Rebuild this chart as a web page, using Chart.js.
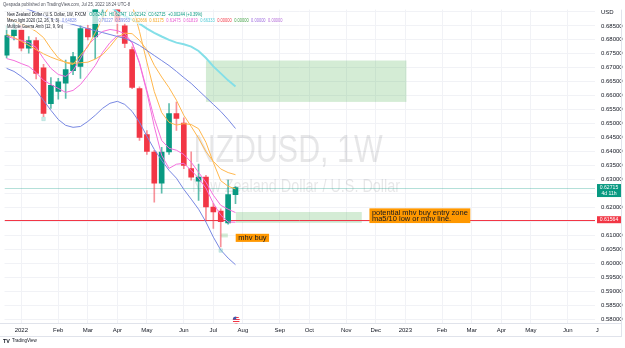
<!DOCTYPE html>
<html>
<head>
<meta charset="utf-8">
<script src="https://cdn.jsdelivr.net/npm/chart.js@4.4.1/dist/chart.umd.min.js"></script>
<style>
  html, body { margin: 0; padding: 0; background: #fff; }
  canvas { display: block; }
</style>
</head>
<body>
<canvas id="chart" width="625" height="348"></canvas>
<script>
// weekly bars, week 0 = first week of Jan 2022
const weeks = [-2, -1, 0, 1, 2, 3, 4, 5, 6, 7, 8, 9, 10, 11, 12, 13, 14, 15, 16, 17, 18, 19, 20, 21, 22, 23, 24, 25, 26, 27, 28, 29];
const opens = [0.6745, 0.6815, 0.6836, 0.6770, 0.6797, 0.6700, 0.6572, 0.6615, 0.6645, 0.6690, 0.6705, 0.6840, 0.6810, 0.6925, 0.6960, 0.6970, 0.6850, 0.6765, 0.6626, 0.6461, 0.6398, 0.6287, 0.6399, 0.6536, 0.6502, 0.6339, 0.6294, 0.6309, 0.6202, 0.6187, 0.6145, 0.6246];
const highs = [0.6850, 0.6860, 0.6850, 0.6812, 0.6808, 0.6712, 0.6665, 0.6662, 0.6728, 0.6755, 0.6850, 0.6852, 0.6935, 0.6985, 0.7035, 0.6985, 0.6858, 0.6775, 0.6632, 0.6475, 0.6405, 0.6415, 0.6572, 0.6577, 0.6521, 0.6399, 0.6355, 0.6315, 0.6215, 0.6195, 0.6298, 0.62747];
const lows = [0.6735, 0.6800, 0.6760, 0.6752, 0.6660, 0.6525, 0.6555, 0.6588, 0.6590, 0.6675, 0.6662, 0.6800, 0.6733, 0.6870, 0.6915, 0.6823, 0.6772, 0.6625, 0.6440, 0.6390, 0.6219, 0.6251, 0.6390, 0.6476, 0.6339, 0.6298, 0.6225, 0.6152, 0.6125, 0.6059, 0.6140, 0.62142];
const closes = [0.6815, 0.6838, 0.6770, 0.6797, 0.6680, 0.6537, 0.6637, 0.6650, 0.6694, 0.6740, 0.6840, 0.6810, 0.6925, 0.6960, 0.6970, 0.6865, 0.6787, 0.6630, 0.6451, 0.6401, 0.6287, 0.6398, 0.6536, 0.6519, 0.6351, 0.6309, 0.6309, 0.6202, 0.6184, 0.6149, 0.6246, 0.62715];

// indicator lines
const maHighFast = [0.6880, 0.6868, 0.6855, 0.6845, 0.6830, 0.6808, 0.6769, 0.6735, 0.6718, 0.6712, 0.6745, 0.6775, 0.6825, 0.6878, 0.6925, 0.6955, 0.6955, 0.6925, 0.6830, 0.6720, 0.6615, 0.6540, 0.6505, 0.6495, 0.6500, 0.6497, 0.6482, 0.6433, 0.6361, 0.6296, 0.6276, 0.62666];
const maHighSlow = [0.6820, 0.6808, 0.6795, 0.6780, 0.6765, 0.6750, 0.6738, 0.6728, 0.6720, 0.6716, 0.6718, 0.6720, 0.6731, 0.6747, 0.6776, 0.6809, 0.6824, 0.6822, 0.6798, 0.6764, 0.6709, 0.6667, 0.6629, 0.6584, 0.6530, 0.6490, 0.6448, 0.6400, 0.6365, 0.6338, 0.6325, 0.63175];
const maLowSlow = [0.6812, 0.6805, 0.6798, 0.6790, 0.6773, 0.6733, 0.6698, 0.6676, 0.6669, 0.6690, 0.6733, 0.6780, 0.6808, 0.6830, 0.6837, 0.6833, 0.6822, 0.6790, 0.6719, 0.6619, 0.6519, 0.6440, 0.6412, 0.6405, 0.6390, 0.6362, 0.6326, 0.6290, 0.6244, 0.6208, 0.6194, 0.61819];
const maLowFast = [0.6733, 0.6726, 0.6715, 0.6705, 0.6683, 0.6655, 0.6640, 0.6626, 0.6612, 0.6619, 0.6640, 0.6673, 0.6708, 0.6755, 0.6790, 0.6815, 0.6812, 0.6790, 0.6715, 0.6612, 0.6490, 0.6387, 0.6340, 0.6355, 0.6358, 0.6333, 0.6305, 0.6269, 0.6215, 0.6173, 0.6148, 0.61475];
const basisLine = [0.6933, 0.6926, 0.6919, 0.6908, 0.6898, 0.6887, 0.6876, 0.6869, 0.6862, 0.6855, 0.6848, 0.6840, 0.6833, 0.6826, 0.6819, 0.6812, 0.6805, 0.6794, 0.6780, 0.6762, 0.6744, 0.6726, 0.6708, 0.6687, 0.6665, 0.6644, 0.6619, 0.6594, 0.6569, 0.6544, 0.6515, 0.64828];
const lowerBand = [0.6698, 0.6687, 0.6669, 0.6648, 0.6619, 0.6583, 0.6548, 0.6515, 0.6494, 0.6487, 0.6490, 0.6508, 0.6530, 0.6555, 0.6573, 0.6580, 0.6569, 0.6544, 0.6505, 0.6455, 0.6408, 0.6369, 0.6333, 0.6305, 0.6265, 0.6230, 0.6194, 0.6148, 0.6094, 0.6048, 0.6019, 0.59953];
const cyanWeeks = [10, 11, 12, 13, 14, 15, 16, 17, 18, 19, 20, 21, 22, 23, 24, 25, 26, 27, 28, 29];
const cyanLine = [0.6960, 0.6942, 0.6920, 0.6900, 0.6885, 0.6872, 0.6858, 0.6840, 0.6825, 0.6812, 0.6800, 0.6790, 0.6784, 0.6776, 0.6760, 0.6735, 0.6705, 0.6680, 0.6655, 0.66333];

// signal squares
const markWeeks = [3, 27];
const markPrices = [0.6517, 0.6046];

// drawings: boxes (week from/to, price top/bottom)
const zoneFrom = [25.0, 29.05, 27.06];
const zoneTo = [52.15, 46.1, 27.96];
const zoneTop = [0.6726, 0.6184, 0.6107];
const zoneBottom = [0.6578, 0.6145, 0.6093];
const noteWeeks = [29.03, 47.14];
const notePrices = [0.6106, 0.6197];
const noteTexts = [['mhv buy'], ['potential mhv buy entry zone', 'ma5/10 low or mhv line.']];
const alertPrice = 0.61564;
const lastPrice = 0.62715;

// axes
const monthTicks = [0, 5, 9, 13, 17, 22, 26, 30, 35, 39, 44, 48, 52, 57, 61, 65, 69, 74, 78];
const monthLabels = ['2022', 'Feb', 'Mar', 'Apr', 'May', 'Jun', 'Jul', 'Aug', 'Sep', 'Oct', 'Nov', 'Dec', '2023', 'Feb', 'Mar', 'Apr', 'May', 'Jun', 'J'];
const priceTicks = [0.58, 0.585, 0.59, 0.595, 0.6, 0.605, 0.61, 0.615, 0.62, 0.625, 0.63, 0.635, 0.64, 0.645, 0.65, 0.655, 0.66, 0.665, 0.67, 0.675, 0.68, 0.685, 0.69];

const UP = '#089981', DOWN = '#f23645';
const ORANGE = '#ffb74d', PINK = '#f46fdc', BLUE = '#7787e2', CYAN = '#84dfe8';
const FONT = '"Liberation Sans", Arial, sans-serif';
const X_MIN = -2.285, X_MAX = 77.69;

Chart.defaults.font.family = FONT;

const isUp = i => closes[i] >= opens[i];
const points = (xs, ys) => ys.map((v, i) => ({ x: xs[i], y: v }));

function label(ctx, str, x, y, size, color, sx, align, weight) {
    ctx.save();
    ctx.translate(x, y);
    ctx.scale(sx || 1, 1);
    ctx.font = (weight || 'normal') + ' ' + size + 'px ' + FONT;
    ctx.fillStyle = color;
    ctx.textAlign = align || 'left';
    ctx.textBaseline = 'middle';
    ctx.fillText(str, 0, 0);
    const w = ctx.measureText(str).width * (sx || 1);
    ctx.restore();
    return w;
}

function legendRow(ctx, parts, x, y) {
    ctx.save();
    ctx.font = '5px ' + FONT;
    let total = 0;
    parts.forEach(p => { total += ctx.measureText(p[0]).width * 0.8 + (p[2] || 2.5); });
    ctx.fillStyle = 'rgba(255,255,255,0.7)';
    ctx.fillRect(x - 2, y - 3, total + 3, 6);
    ctx.restore();
    let cx = x;
    parts.forEach(p => { cx += label(ctx, p[0], cx, y, 5, p[1], 0.8) + (p[2] || 2.5); });
}

const drawings = {
    id: 'drawings',
    beforeDatasetsDraw(chart) {
        const { ctx, chartArea: a, scales: { x, y } } = chart;
        ctx.save();
        ctx.beginPath();
        ctx.rect(a.left, a.top, a.right - a.left, a.bottom - a.top);
        ctx.clip();
        // watermark
        label(ctx, 'NZDUSD, 1W', 288, 152, 38, 'rgba(19,23,34,0.1)', 0.8, 'center');
        label(ctx, 'New Zealand Dollar / U.S. Dollar', 296, 187, 18, 'rgba(19,23,34,0.1)', 0.8, 'center');
        // boxes
        ctx.fillStyle = 'rgba(76,175,80,0.24)';
        zoneFrom.forEach((f, k) => {
            const x0 = x.getPixelForValue(f), x1 = x.getPixelForValue(zoneTo[k]);
            const y0 = y.getPixelForValue(zoneTop[k]), y1 = y.getPixelForValue(zoneBottom[k]);
            ctx.fillRect(x0, y0, x1 - x0, y1 - y0);
        });
        // last price line and alert line
        const yl = Math.round(y.getPixelForValue(lastPrice)) + 0.5;
        ctx.strokeStyle = 'rgba(8,153,129,0.3)';
        ctx.lineWidth = 1;
        ctx.beginPath(); ctx.moveTo(a.left, yl); ctx.lineTo(a.right, yl); ctx.stroke();
        const ya = Math.round(y.getPixelForValue(alertPrice)) + 0.5;
        ctx.strokeStyle = DOWN;
        ctx.beginPath(); ctx.moveTo(a.left, ya); ctx.lineTo(a.right, ya); ctx.stroke();
        ctx.restore();
    },
    afterDraw(chart) {
        const { ctx, chartArea: a, scales: { x, y } } = chart;
        // notes
        noteTexts.forEach((lines, k) => {
            ctx.save();
            ctx.font = '7.5px ' + FONT;
            const w = Math.max(...lines.map(s => ctx.measureText(s).width)) + 5;
            const h = lines.length * 6.6 + 1.5;
            const bx = x.getPixelForValue(noteWeeks[k]), by = y.getPixelForValue(notePrices[k]);
            ctx.fillStyle = '#ff9800';
            ctx.fillRect(bx, by, w, h);
            ctx.restore();
            lines.forEach((s, j) => label(ctx, s, bx + 2.5, by + 4.2 + j * 6.6, 7.5, '#131722'));
        });
        // header and legend
        label(ctx, 'Qespada published on TradingView.com, Jul 25, 2022 18:24 UTC-8', 3, 4.5, 5, '#50535e', 0.85);
        legendRow(ctx, [
            ['New Zealand Dollar / U.S. Dollar, 1W, FXCM', '#131722', 3],
            ['O0.62471', UP], ['H0.62747', UP], ['L0.62142', UP], ['C0.62715', UP], ['+0.00244 (+0.39%)', UP]
        ], 7, 15);
        legendRow(ctx, [
            ['Mavo light 2020 (12, 26, 9, 3)', '#131722', 3],
            ['0.64828', BLUE, 22], ['0.70227', BLUE], ['0.59953', BLUE],
            ['0.62666', '#f5a623'], ['0.63175', '#f5a623'], ['0.61475', '#e65ad0'], ['0.61819', '#e65ad0'],
            ['0.66333', '#4fc9d6'], ['0.00000', DOWN], ['0.00000', '#43a047'], ['0.00000', '#9c6ade'], ['0.00000', '#b36ad8']
        ], 7, 21);
        legendRow(ctx, [['Multiple Guerra Amb (12, 9, 9n)', '#131722']], 7, 27);
        // price scale labels
        const yl = y.getPixelForValue(lastPrice);
        ctx.fillStyle = UP;
        ctx.fillRect(597, yl - 3.5, 24, 13);
        label(ctx, lastPrice.toFixed(5), 609, yl, 6, '#fff', 0.85, 'center');
        label(ctx, '4d 11h', 609, yl + 6, 6, '#fff', 0.85, 'center');
        const ya = y.getPixelForValue(alertPrice);
        ctx.fillStyle = DOWN;
        ctx.fillRect(597, ya - 3.5, 24, 7);
        label(ctx, alertPrice.toFixed(5), 609, ya, 6, '#fff', 0.85, 'center');
        // frame
        ctx.save();
        ctx.strokeStyle = '#e0e3eb';
        ctx.lineWidth = 1;
        ctx.beginPath();
        ctx.moveTo(0, a.bottom + 0.5); ctx.lineTo(622, a.bottom + 0.5);
        ctx.moveTo(0, 336.5); ctx.lineTo(622, 336.5);
        ctx.moveTo(621.5, a.top); ctx.lineTo(621.5, 336.5);
        ctx.stroke();
        // event flag on time axis
        const fx = x.getPixelForValue(29.1), fy = a.bottom - 3;
        ctx.beginPath(); ctx.arc(fx, fy, 3.5, 0, Math.PI * 2); ctx.fillStyle = '#fff'; ctx.fill();
        ctx.clip();
        ctx.fillStyle = DOWN;
        for (let s = -3; s < 4; s += 2) ctx.fillRect(fx - 4, fy + s, 8, 1);
        ctx.fillStyle = '#3c5bb0';
        ctx.fillRect(fx - 4, fy - 4, 4, 3.5);
        ctx.restore();
        // logo
        label(ctx, 'TV', 3, 341, 6, '#131722', 0.9, 'left', 'bold');
        label(ctx, 'TradingView', 12, 341, 5, '#131722', 0.9);
    }
};

const lineSet = (xs, ys, color, width) => ({
    type: 'line', data: points(xs, ys), borderColor: color, borderWidth: width || 1,
    pointRadius: 0, tension: 0, order: 1
});

new Chart(document.getElementById('chart'), {
    type: 'bar',
    data: {
        datasets: [
            {
                type: 'bar', data: points(weeks, weeks.map((w, i) => [lows[i], highs[i]])),
                backgroundColor: c => isUp(c.dataIndex) ? 'rgba(8,153,129,0.65)' : 'rgba(242,54,69,0.55)',
                barThickness: 1, grouped: false, order: 4
            },
            {
                type: 'bar', data: points(weeks, weeks.map((w, i) => [opens[i], closes[i]])),
                backgroundColor: c => isUp(c.dataIndex) ? UP : DOWN,
                barThickness: 5, grouped: false, order: 3
            },
            lineSet(weeks, basisLine, BLUE),
            lineSet(weeks, lowerBand, BLUE),
            lineSet(weeks, maHighSlow, ORANGE),
            lineSet(weeks, maHighFast, ORANGE),
            lineSet(weeks, maLowSlow, PINK),
            lineSet(weeks, maLowFast, PINK),
            lineSet(cyanWeeks, cyanLine, CYAN, 2),
            {
                type: 'line', data: points(markWeeks, markPrices), showLine: false,
                pointStyle: 'rect', pointRadius: 2.5, pointBackgroundColor: 'rgba(128,203,196,0.4)',
                pointBorderColor: 'rgba(128,203,196,0.6)', pointBorderWidth: 0.5, order: 0
            }
        ]
    },
    options: {
        responsive: false,
        animation: false,
        devicePixelRatio: 1,
        layout: { padding: { top: 9, bottom: 11, left: 0, right: 0 } },
        plugins: { legend: { display: false }, tooltip: { enabled: false } },
        scales: {
            x: {
                type: 'linear', min: X_MIN, max: X_MAX, bounds: 'data', offset: false,
                grid: { offset: false, drawTicks: false, color: c => (c.tick && c.tick.value > X_MAX) ? 'rgba(0,0,0,0)' : '#f1f2f6' },
                border: { display: false },
                afterBuildTicks: s => { s.ticks = monthTicks.map(v => ({ value: v })); },
                afterFit: s => { s.height = 14; },
                ticks: {
                    autoSkip: false, maxRotation: 0, padding: 4, color: '#131722', font: { size: 6 },
                    callback: (v, i) => monthLabels[i]
                }
            },
            y: {
                position: 'right', min: 0.57868, max: 0.69082, bounds: 'data',
                grid: { drawTicks: false, color: '#f1f2f6' },
                border: { display: false },
                afterBuildTicks: s => { s.ticks = priceTicks.map(v => ({ value: v })); },
                afterFit: s => { s.width = 30; },
                ticks: {
                    padding: 6, color: '#131722', font: { size: 6 },
                    callback: v => {
                        if (Math.abs(v - 0.69) < 1e-6) return 'USD';
                        if (Math.abs(v - 0.625) < 1e-6 || Math.abs(v - 0.615) < 1e-6) return '';
                        return v.toFixed(5);
                    }
                }
            }
        }
    },
    plugins: [drawings]
});
</script>
</body>
</html>
